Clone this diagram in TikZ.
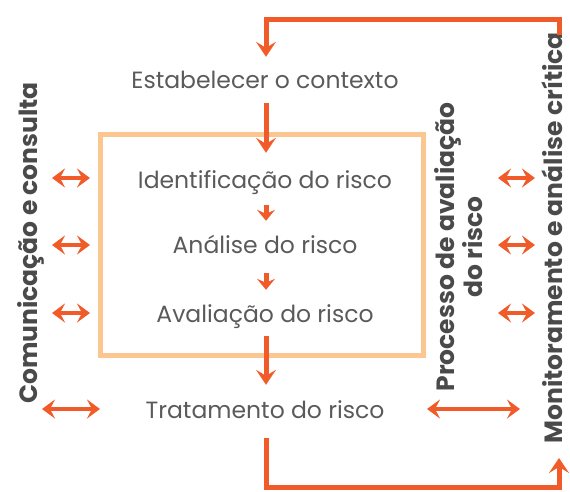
\documentclass[tikz,border=0pt]{standalone}
\usepackage{fontspec}
\setmainfont{Poppins}
\usetikzlibrary{arrows.meta}
\definecolor{orng}{HTML}{F15A29}
\definecolor{boxc}{HTML}{FCC690}
\definecolor{txt}{HTML}{5A5A5A}
\definecolor{btxt}{HTML}{4A4A4A}
\tikzset{
  lbl/.style={font=\fontsize{23.5}{28}\selectfont, text=txt, inner sep=0pt, text height=17pt, text depth=5pt, anchor=base},
  side/.style={font=\fontsize{25}{24}\selectfont\bfseries, text=btxt, inner sep=0pt, rotate=90, align=center, anchor=base},
  main/.style={draw=orng, line width=5pt, -{Stealth[length=15pt,width=20pt,inset=6pt]}},
  small/.style={draw=orng, line width=5pt, -{Stealth[length=11pt,width=18pt,inset=4pt]}},
  dbl/.style={draw=orng, line width=4.5pt, {Stealth[length=13pt,width=19pt,inset=5pt]}-{Stealth[length=13pt,width=19pt,inset=5pt]}},
}
\begin{document}
\begin{tikzpicture}[x=1pt,y=-1pt]
\useasboundingbox (0,0) rectangle (570,491);
% box
\draw[boxc, line width=5pt] (100.5,134.5) rectangle (423,355.5);
% text nodes
\node[lbl] (estab) at (265,88) {Estabelecer o contexto};
\node[lbl] (ident) at (265,188) {Identificação do risco};
\node[lbl] (anal) at (265,253) {Análise do risco};
\node[lbl] (aval) at (265,322) {Avaliação do risco};
\node[lbl] (trat) at (265,418) {Tratamento do risco};
\node[side] (com) at (37,243) {Comunicação e consulta};
\node[side] (proc) at (482,247) {Processo de avaliação\\do risco};
\node[side, text depth=0pt] (mon) at (562,238) {Monitoramento e análise crítica};
% main flow
\coordinate (mtop) at (559,35);
\coordinate (tl) at (266,19.5);
\draw[main, shorten >=14pt] (mtop) |- (tl) -- (estab.north -| tl);
\draw[main, shorten <=10pt, shorten >=18pt] (estab.south -| tl) -- (ident.north -| tl);
\draw[small, shorten <=12pt, shorten >=15pt] (ident.south -| tl) -- (anal.north -| tl);
\draw[small, shorten <=15pt, shorten >=15pt] (anal.south -| tl) -- (aval.north -| tl);
\draw[main, shorten <=9pt, shorten >=16pt] (aval.south -| tl) -- (trat.north -| tl);
\coordinate (bl) at (266,487.5);
\coordinate (mbot) at (559,458);
\draw[main, shorten <=15pt] (trat.south -| tl) -- (bl) -| (mbot);
% double arrows
\foreach \y/\n in {178/a,245/b,313/c}{
  \coordinate (l\n1) at (52,\y); \coordinate (l\n2) at (90,\y);
  \draw[dbl] (l\n1) -- (l\n2);
  \coordinate (r\n1) at (498,\y); \coordinate (r\n2) at (535,\y);
  \draw[dbl] (r\n1) -- (r\n2);
}
\coordinate (ld1) at (42,409); \coordinate (ld2) at (100,409);
\draw[dbl] (ld1) -- (ld2);
\coordinate (rd1) at (427,409); \coordinate (rd2) at (520,409);
\draw[dbl] (rd1) -- (rd2);
\end{tikzpicture}
\end{document}
